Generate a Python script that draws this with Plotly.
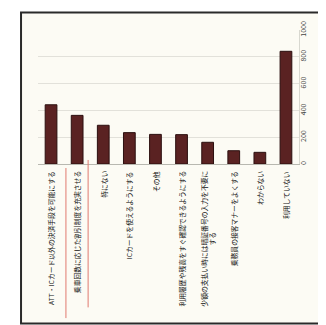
import plotly.graph_objects as go

# survey answers (read bottom-to-top in the original, end at the axis)
categories = [
    "ATT・ICカード以外の決済手段を可能にする",
    "乗車回数に応じた割引制度を充実させる",
    "特にない",
    "ICカードを使えるようにする",
    "その他",
    "利用履歴や残高をすぐ確認できるようにする",
    "少額の支払い時には暗証番号の入力を不要に<br>する",
    "乗務員の接客マナーをよくする",
    "わからない",
    "利用していない",
]
values = [442, 363, 289, 234, 221, 219, 162, 99, 87, 841]
y_ticks = [0, 200, 400, 600, 800, 1000]

FONT = "Noto Sans CJK JP"
BAR = "#5a2222"
BAR_EDGE = "#2b0f0f"
PEN = "#e07a70"

fig = go.Figure()

fig.add_trace(
    go.Bar(
        x=list(range(len(categories))),
        y=values,
        marker=dict(color=BAR, line=dict(color=BAR_EDGE, width=1)),
        width=0.45,
        showlegend=False,
    )
)

# category labels as rotated annotations so wrapped lines stay centred
for i, label in enumerate(categories):
    fig.add_annotation(
        x=i,
        y=0,
        xref="x",
        yref="paper",
        yshift=-5,
        text=label,
        textangle=-90,
        xanchor="center",
        yanchor="top",
        align="center",
        showarrow=False,
        font=dict(family=FONT, size=6.8, color="#111111"),
    )

# outer frame of the scanned page
fig.add_shape(
    type="rect", xref="paper", yref="paper",
    x0=-0.065, x1=1.115, y0=-1.19, y1=1.13,
    line=dict(color="#2a2a2a", width=2),
    fillcolor="#fcfbf4", layer="below",
)

# red pen marks around the second label
fig.add_shape(
    type="line", xref="paper", yref="paper",
    x0=0.107, x1=0.107, y0=-0.03, y1=-1.15,
    line=dict(color=PEN, width=1),
)
fig.add_shape(
    type="line", xref="paper", yref="paper",
    x0=0.192, x1=0.192, y0=0.03, y1=-1.07,
    line=dict(color=PEN, width=1),
)

fig.update_layout(
    width=326,
    height=325,
    margin=dict(l=30, r=35, t=22, b=169),
    paper_bgcolor="#ffffff",
    plot_bgcolor="rgba(0,0,0,0)",
)

fig.update_xaxes(
    range=[-0.5, len(categories) - 0.5],
    showticklabels=False,
    showgrid=False,
    showline=True,
    linecolor="#b8b8b0",
    linewidth=1,
    ticks="",
)

fig.update_yaxes(
    side="right",
    range=[0, 1000],
    tickvals=y_ticks,
    ticktext=[str(v) for v in y_ticks],
    tickangle=-90,
    tickfont=dict(family=FONT, size=7, color="#444444"),
    ticklabelstandoff=-2,
    showgrid=True,
    gridcolor="#e2e1da",
    gridwidth=1,
    zeroline=False,
    showline=True,
    linecolor="#d8d8d0",
    ticks="",
)

fig.write_html("out.html")
